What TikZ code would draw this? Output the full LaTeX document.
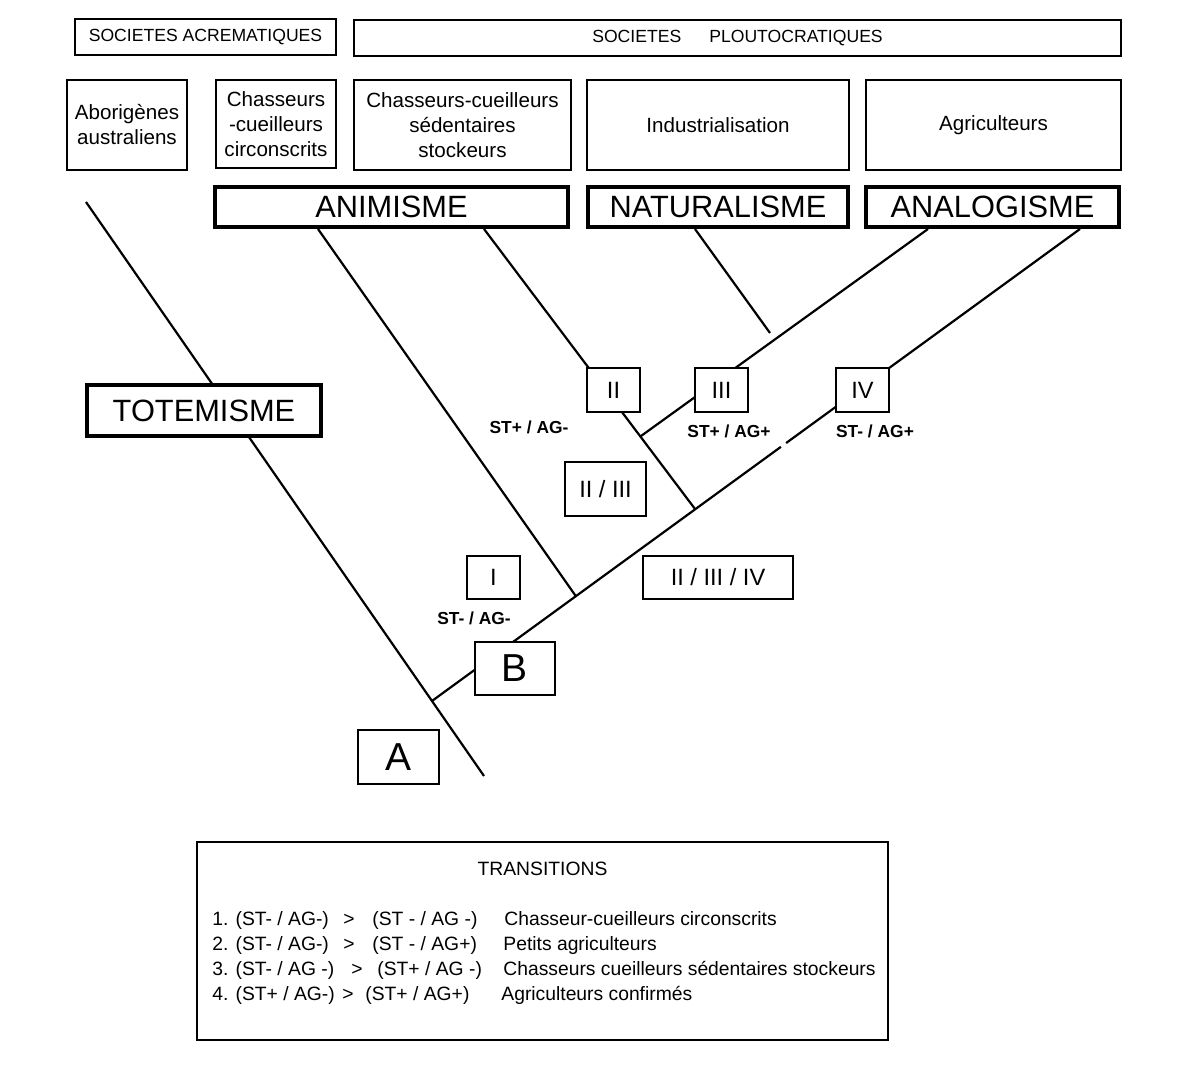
\documentclass[tikz,border=0pt]{standalone}
\usepackage{fontspec}
\setmainfont{Liberation Sans}
\usetikzlibrary{calc}
\pgfdeclarelayer{bg}
\pgfsetlayers{bg,main}
\begin{document}
\begin{tikzpicture}[x=0.5pt,y=-0.5pt,
  bx/.style={draw, line width=0.75pt, fill=white, inner sep=0pt, align=center},
  thk/.style={draw, line width=2.25pt, fill=white, inner sep=0pt, align=center, font=\fontsize{15.4}{18}\selectfont},
  topbox/.style={bx, font=\fontsize{8.8}{10}\selectfont},
  soc/.style={bx, font=\fontsize{10.3}{12.5}\selectfont},
  num/.style={bx, font=\fontsize{11.8}{14}\selectfont},
  big/.style={bx, font=\fontsize{19.5}{22}\selectfont},
  lab/.style={inner sep=0pt, font=\bfseries\fontsize{8.7}{10}\selectfont},
  tr/.style={inner sep=0pt, anchor=base west, font=\fontsize{9.65}{12}\selectfont},
  conn/.style={line width=1.1pt},
]
\useasboundingbox (0,0) rectangle (1200,1069);

% top headers
\node[topbox, minimum width=130.5pt, minimum height=18pt] (acr) at (205.5,37) {SOCIETES ACREMATIQUES};
\node[topbox, minimum width=383.5pt, minimum height=18pt] (plou) at (737.5,38) {SOCIETES\hspace{14pt}PLOUTOCRATIQUES};

% societies
\node[soc, minimum width=60pt, minimum height=45pt] (abo) at (127,125) {Aborigènes\\australiens};
\node[soc, minimum width=60pt, minimum height=44pt] (chc) at (276,124) {Chasseurs\\-cueilleurs\\circonscrits};
\node[soc, minimum width=108.5pt, minimum height=45pt] (sed) at (462.5,125) {Chasseurs-cueilleurs\\sédentaires\\stockeurs};
\node[soc, minimum width=131pt, minimum height=45pt] (ind) at (718,125) {Industrialisation};
\node[soc, minimum width=127.5pt, minimum height=45pt] (agr) at (993.5,125) {Agriculteurs};

% ontologies
\node[thk, minimum width=176.5pt, minimum height=20pt] (ani) at (391.5,207) {ANIMISME};
\node[thk, minimum width=130pt, minimum height=20pt] (nat) at (718,207) {NATURALISME};
\node[thk, minimum width=126.5pt, minimum height=20pt] (ana) at (992.5,207) {ANALOGISME};
\node[thk, minimum width=117pt, minimum height=25.5pt] (tot) at (204,410.5) {TOTEMISME};

% numerals
\node[num, minimum width=26.5pt, minimum height=22pt] (n2) at (613.5,390) {II};
\node[num, minimum width=26.5pt, minimum height=22pt] (n3) at (721.5,390) {III};
\node[num, minimum width=26.5pt, minimum height=22pt] (n4) at (862.5,390) {IV};
\node[num, minimum width=40.5pt, minimum height=27pt] (n23) at (605.5,489) {II / III};
\node[num, minimum width=26.5pt, minimum height=21.5pt] (n1) at (493.5,577.5) {I};
\node[num, minimum width=75pt, minimum height=21.5pt] (n234) at (718,577.5) {II / III / IV};
\node[big, minimum width=40pt, minimum height=26.5pt] (B) at (515,668.5) {B};
\node[big, minimum width=40.5pt, minimum height=27pt] (A) at (398.5,757) {A};

% labels
\node[lab] (l1) at (529,427) {ST+ / AG-};
\node[lab] (l2) at (729,431) {ST+ / AG+};
\node[lab] (l3) at (875,431) {ST- / AG+};
\node[lab] (l4) at (474,618) {ST- / AG-};

% transitions
\node[bx, minimum width=345.5pt, minimum height=99pt] (trans) at (542.5,941) {};
\node[inner sep=0pt, anchor=base, font=\fontsize{9.65}{12}\selectfont] (ttl) at (542.5,875) {TRANSITIONS};
\node[tr] (r1a) at (212,925) {1. (ST- / AG-)};
\node[tr] (r1b) at (343,925) {>};
\node[tr] (r1c) at (372,925) {(ST - / AG -)};
\node[tr] (r1d) at (504,925) {Chasseur-cueilleurs circonscrits};
\node[tr] (r2a) at (212,950) {2. (ST- / AG-)};
\node[tr] (r2b) at (343,950) {>};
\node[tr] (r2c) at (372,950) {(ST - / AG+)};
\node[tr] (r2d) at (503,950) {Petits agriculteurs};
\node[tr] (r3a) at (212,975) {3. (ST- / AG -)};
\node[tr] (r3b) at (351,975) {>};
\node[tr] (r3c) at (377,975) {(ST+ / AG -)};
\node[tr] (r3d) at (503,975) {Chasseurs cueilleurs sédentaires stockeurs};
\node[tr] (r4a) at (212,1000) {4. (ST+ / AG-)};
\node[tr] (r4b) at (342,1000) {>};
\node[tr] (r4c) at (365,1000) {(ST+ / AG+)};
\node[tr] (r4d) at (501,1000) {Agriculteurs confirmés};

% connectors (behind boxes)
\begin{pgfonlayer}{bg}
\coordinate (totTop) at (86,202);
\coordinate (totEnd) at (484,776);
\coordinate (j0) at ($(totTop)!0.8693!(totEnd)$);
\coordinate (mainEnd) at (1080,229);
\coordinate (a1Top) at (318,229);
\coordinate (a1Dir) at (575,595);
\coordinate (j1) at (intersection of j0--mainEnd and a1Top--a1Dir);
\coordinate (a2Top) at (484,229);
\coordinate (a2Dir) at (695,509);
\coordinate (j2) at (intersection of j0--mainEnd and a2Top--a2Dir);
\coordinate (a3Top) at (928,229);
\coordinate (a3Dir) at (695,397);
\coordinate (j3) at (intersection of a2Top--j2 and a3Top--a3Dir);
\coordinate (natTop) at (695,229);
\coordinate (natEnd) at (770,333);
\draw[conn] (totTop) -- (totEnd);
\draw[conn] (j0) -- (mainEnd);
\draw[conn] (a1Top) -- (j1);
\draw[conn] (a2Top) -- (j2);
\draw[conn] (j3) -- (a3Top);
\draw[conn] (natTop) -- (natEnd);
\draw[white, line width=2.2pt] ($(j0)!0.5386!(mainEnd)$) -- ($(j0)!0.5463!(mainEnd)$);
\end{pgfonlayer}
\end{tikzpicture}
\end{document}
